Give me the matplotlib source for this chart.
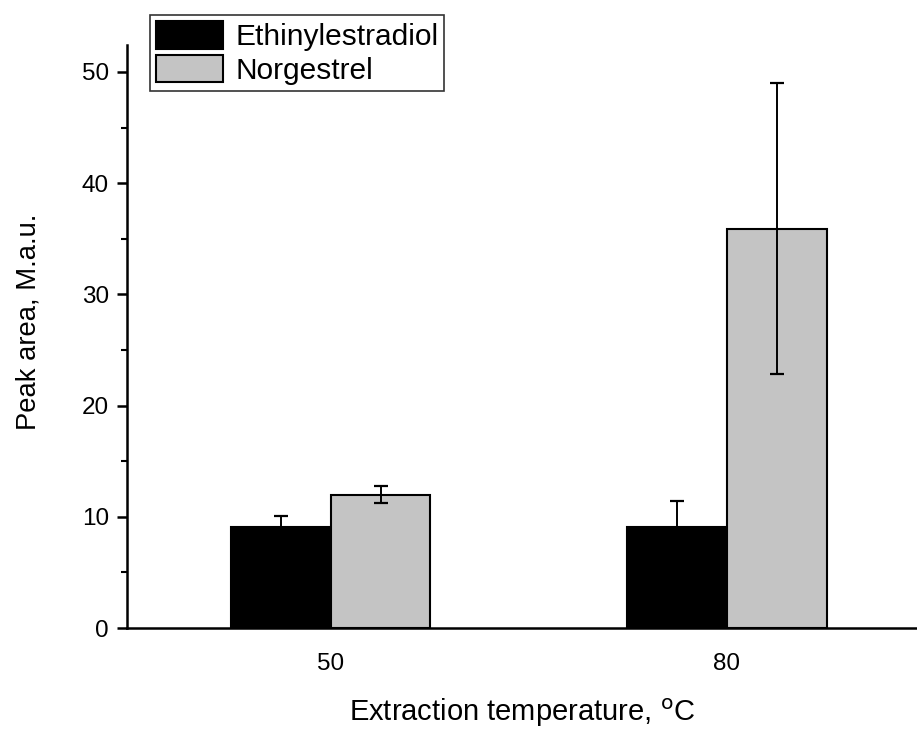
import numpy as np
import matplotlib.pyplot as plt
from matplotlib.ticker import MultipleLocator

# Data
temps = ["50", "80"]
ethinyl = [9.1, 9.1]
ethinyl_err = [0.95, 2.3]
norgestrel = [12.0, 35.9]
norgestrel_err = [0.73, 13.1]

plt.rcParams["font.family"] = ["Liberation Sans", "DejaVu Sans"]

fig = plt.figure(figsize=(9.17, 7.29), dpi=100)
ax = fig.add_axes([0.1385, 0.1385, 0.8615, 0.7995])

x = np.arange(len(temps))
w = 0.252

ax.bar(x - w / 2, ethinyl, width=w, color="black", edgecolor="black",
       linewidth=1.5, label="Ethinylestradiol", zorder=2)
ax.bar(x + w / 2, norgestrel, width=w, color="#c4c4c4", edgecolor="black",
       linewidth=1.5, label="Norgestrel", zorder=2)
ax.errorbar(x - w / 2, ethinyl, yerr=ethinyl_err, fmt="none", ecolor="black",
            elinewidth=1.4, capsize=5, capthick=1.6, zorder=3)
ax.errorbar(x + w / 2, norgestrel, yerr=norgestrel_err, fmt="none", ecolor="black",
            elinewidth=1.4, capsize=5, capthick=1.6, zorder=3)

ax.set_xlim(-0.514, 1.48)
ax.set_ylim(0, 52.4)
ax.set_xticks(x)
ax.set_xticklabels(temps, fontsize=17.5)
ax.tick_params(axis="x", length=0, pad=18)
ax.yaxis.set_major_locator(MultipleLocator(10))
ax.yaxis.set_minor_locator(MultipleLocator(5))
ax.tick_params(axis="y", which="major", length=7, width=1.8, labelsize=17.5,
               direction="out", pad=6)
ax.tick_params(axis="y", which="minor", length=4, width=1.5, direction="out")

for side in ["top", "right"]:
    ax.spines[side].set_visible(False)
for side in ["left", "bottom"]:
    ax.spines[side].set_linewidth(1.8)

ax.set_ylabel("Peak area, M.a.u.", fontsize=19.7)
ax.yaxis.set_label_coords(-0.108, 0.525)
ax.set_xlabel("Extraction temperature, $^{\\rm o}$C", fontsize=21, labelpad=15.5)

leg = ax.legend(loc="upper left", bbox_to_anchor=(150 / 917, 1 - 15 / 729),
                bbox_transform=fig.transFigure, fontsize=21.5, frameon=True,
                fancybox=False, edgecolor="black", handlelength=2.25, handleheight=1.05,
                handletextpad=0.4, borderpad=0.2, labelspacing=0.12, borderaxespad=0)
leg.get_frame().set_linewidth(1.2)

plt.savefig("out.png", dpi=100)
